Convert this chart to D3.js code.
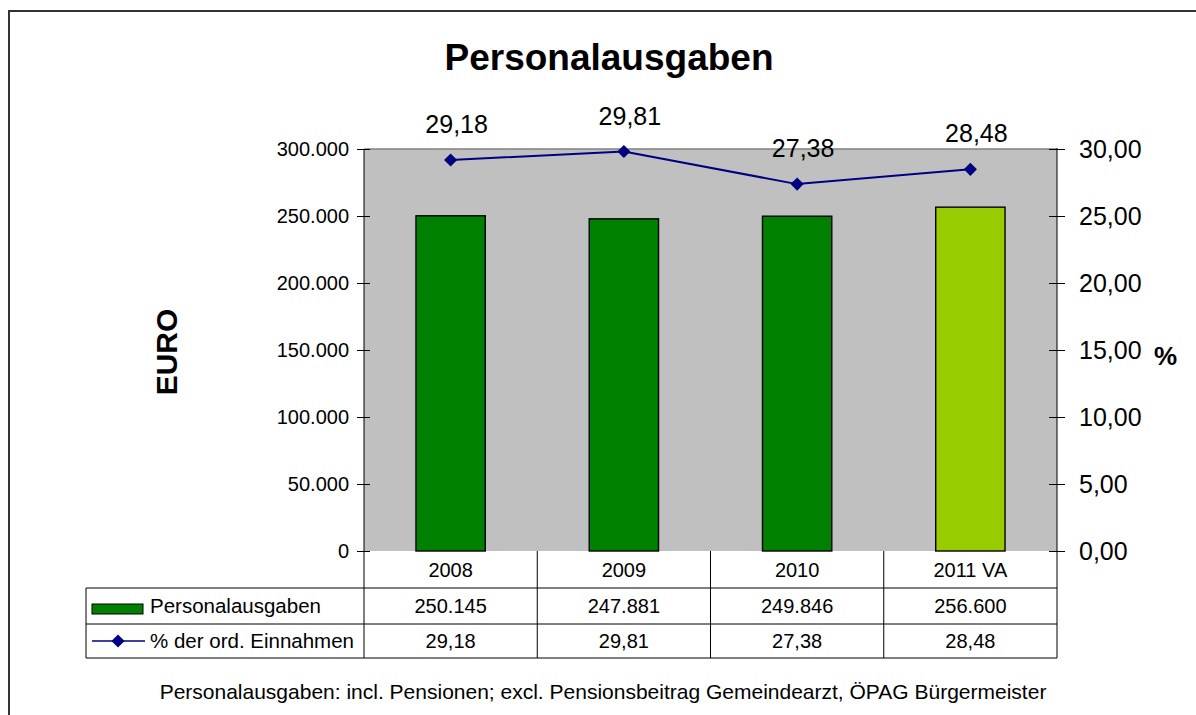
<!DOCTYPE html>
<html>
<head>
<meta charset="utf-8">
<script src="https://cdn.jsdelivr.net/npm/d3@7"></script>
<style>
  body { margin: 0; background: #fff; }
  text { font-family: "Liberation Sans", Arial, sans-serif; fill: #000; }
</style>
</head>
<body>
<div class="canvas"></div>
<script>
// data
const years = ['2008', '2009', '2010', '2011 VA'];
const ausgaben = [250145, 247881, 249846, 256600];
const prozent = [29.18, 29.81, 27.38, 28.48];
const barColors = ['#008000', '#008000', '#008000', '#99CC00'];
const leftTicks = [0, 50000, 100000, 150000, 200000, 250000, 300000];
const rightTicks = [0, 5, 10, 15, 20, 25, 30];

const width = 1196, height = 715;
const plot = {left: 364, right: 1057, top: 149, bottom: 551};
const rowLines = [551, 588, 624, 658];

const de = d3.formatLocale({decimal: ',', thousands: '.', grouping: [3], currency: ['', ' €']});
const fmtInt = de.format(',.0f');
const fmtPct = de.format(',.2f');

const svg = d3.select('.canvas')
    .append('svg')
    .attr('width', width)
    .attr('height', height);

svg.append('rect').attr('width', width).attr('height', height).attr('fill', '#fff');

// outer frame
svg.append('rect')
    .attr('x', 9).attr('y', 11)
    .attr('width', 1220).attr('height', 740)
    .attr('fill', 'none')
    .attr('stroke', '#333')
    .attr('stroke-width', 2);

// scales
const x = d3.scaleBand().domain(years).range([plot.left, plot.right]).padding(0);
const y = d3.scaleLinear().domain([0, 300000]).range([plot.bottom, plot.top]);
const y2 = d3.scaleLinear().domain([0, 30]).range([plot.bottom, plot.top]);

// plot area
svg.append('rect')
    .attr('x', plot.left).attr('y', plot.top)
    .attr('width', plot.right - plot.left).attr('height', plot.bottom - plot.top)
    .attr('fill', '#C0C0C0');
svg.append('line')
    .attr('x1', plot.left).attr('x2', plot.right)
    .attr('y1', plot.top).attr('y2', plot.top)
    .attr('stroke', '#808080').attr('stroke-width', 1.5);

// bars
const barW = x.bandwidth() * 0.4;
svg.append('g').selectAll('rect')
    .data(ausgaben)
    .join('rect')
    .attr('x', (d, i) => x(years[i]) + (x.bandwidth() - barW) / 2)
    .attr('y', d => y(d))
    .attr('width', barW)
    .attr('height', d => y(0) - y(d))
    .attr('fill', (d, i) => barColors[i])
    .attr('stroke', '#000')
    .attr('stroke-width', 1.4);

// axes
const yAxis = d3.axisLeft(y).tickValues(leftTicks).tickSize(7).tickPadding(8).tickFormat(fmtInt);
const yAxis2 = d3.axisRight(y2).tickValues(rightTicks).tickSize(8).tickPadding(14).tickFormat(fmtPct);

const yAxisGroup = svg.append('g')
    .attr('transform', `translate(${plot.left}, 0)`)
    .call(yAxis);
yAxisGroup.select('.domain').remove();
yAxisGroup.selectAll('line').attr('x1', 6).attr('stroke', '#000');
yAxisGroup.selectAll('text').style('font-size', '20px').attr('font-family', null);

const yAxisGroup2 = svg.append('g')
    .attr('transform', `translate(${plot.right}, 0)`)
    .call(yAxis2);
yAxisGroup2.select('.domain').remove();
yAxisGroup2.selectAll('line').attr('x1', -8).attr('stroke', '#000');
yAxisGroup2.selectAll('text').style('font-size', '25px').attr('font-family', null);

// axis lines
svg.append('line')
    .attr('x1', plot.left).attr('x2', plot.left)
    .attr('y1', plot.top).attr('y2', rowLines[3])
    .attr('stroke', '#000');
svg.append('line')
    .attr('x1', plot.right).attr('x2', plot.right)
    .attr('y1', plot.top - 1).attr('y2', rowLines[3])
    .attr('stroke', '#000');

// line series
const cx = d => x(d) + x.bandwidth() / 2;
const line = d3.line()
    .x((d, i) => cx(years[i]))
    .y(d => y2(d));

svg.append('path')
    .datum(prozent)
    .attr('fill', 'none')
    .attr('stroke', '#000080')
    .attr('stroke-width', 2)
    .attr('d', line);

const diamond = d3.symbol().type(d3.symbolDiamond2).size(110);
svg.append('g').selectAll('path')
    .data(prozent)
    .join('path')
    .attr('transform', (d, i) => `translate(${cx(years[i])}, ${y2(d)})`)
    .attr('d', diamond)
    .attr('fill', '#000080');

// data labels
svg.append('g').selectAll('text')
    .data(prozent)
    .join('text')
    .attr('x', (d, i) => cx(years[i]) + 6)
    .attr('y', d => y2(d) - 27)
    .attr('text-anchor', 'middle')
    .style('font-size', '25px')
    .text(d => fmtPct(d));

// data table
const table = svg.append('g').attr('stroke', '#000').attr('stroke-width', 1);
rowLines.slice(1).forEach(ry => {
    table.append('line').attr('x1', 86).attr('x2', plot.right).attr('y1', ry).attr('y2', ry);
});
table.append('line').attr('x1', 86).attr('x2', 86).attr('y1', rowLines[1]).attr('y2', rowLines[3]);
years.slice(1).forEach(c => {
    table.append('line').attr('x1', x(c)).attr('x2', x(c)).attr('y1', rowLines[0]).attr('y2', rowLines[3]);
});

const rows = [years, ausgaben.map(fmtInt), prozent.map(fmtPct)];
rows.forEach((row, r) => {
    svg.append('g').selectAll('text')
        .data(row)
        .join('text')
        .attr('x', (d, i) => cx(years[i]))
        .attr('y', (rowLines[r] + rowLines[r + 1]) / 2)
        .attr('dy', '0.36em')
        .attr('text-anchor', 'middle')
        .style('font-size', '20px')
        .text(d => d);
});

// legend in table
svg.append('rect')
    .attr('x', 92).attr('y', 604)
    .attr('width', 51).attr('height', 10)
    .attr('fill', '#008000').attr('stroke', '#000').attr('stroke-width', 1);
svg.append('text')
    .attr('x', 150).attr('y', (rowLines[1] + rowLines[2]) / 2).attr('dy', '0.36em')
    .style('font-size', '20.5px')
    .text('Personalausgaben');
svg.append('line')
    .attr('x1', 92).attr('x2', 145).attr('y1', 641).attr('y2', 641)
    .attr('stroke', '#000080').attr('stroke-width', 1.5);
svg.append('path')
    .attr('transform', 'translate(118, 641)')
    .attr('d', diamond)
    .attr('fill', '#000080');
svg.append('text')
    .attr('x', 150).attr('y', (rowLines[2] + rowLines[3]) / 2).attr('dy', '0.36em')
    .style('font-size', '20.5px')
    .text('% der ord. Einnahmen');

// titles
svg.append('text')
    .attr('x', 609).attr('y', 70)
    .attr('text-anchor', 'middle')
    .style('font-size', '37px').style('font-weight', 'bold')
    .text('Personalausgaben');

svg.append('text')
    .attr('transform', 'translate(177, 352) rotate(-90)')
    .attr('text-anchor', 'middle')
    .style('font-size', '30px').style('font-weight', 'bold')
    .text('EURO');

svg.append('text')
    .attr('x', 1154).attr('y', 365)
    .style('font-size', '26px').style('font-weight', 'bold')
    .text('%');

svg.append('text')
    .attr('x', 603).attr('y', 699)
    .attr('text-anchor', 'middle')
    .style('font-size', '21px')
    .text('Personalausgaben: incl. Pensionen; excl. Pensionsbeitrag Gemeindearzt, ÖPAG Bürgermeister');
</script>
</body>
</html>
